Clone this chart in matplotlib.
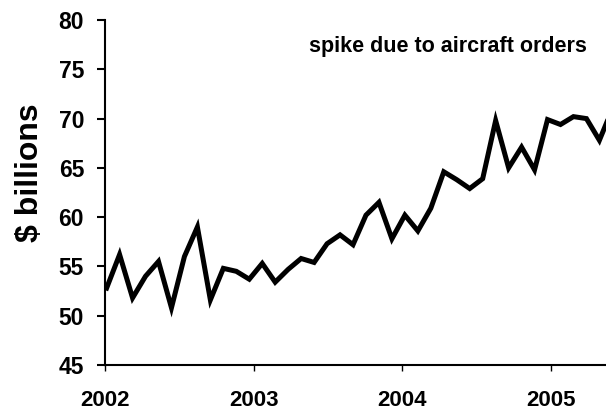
import numpy as np
import matplotlib.pyplot as plt

plt.rcParams['font.family'] = ['Liberation Sans', 'DejaVu Sans']
plt.rcParams['font.weight'] = 'bold'

# monthly values, $ billions (starting early 2002)
values = [52.8, 56.2, 51.8, 54.0, 55.5, 50.8, 56.0, 59.0, 51.6, 54.8,
          54.5, 53.7, 55.3, 53.4, 54.7, 55.8, 55.4, 57.3, 58.2, 57.2,
          60.2, 61.5, 57.8, 60.2, 58.6, 60.9, 64.6, 63.8, 62.9, 63.9,
          69.8, 65.0, 67.1, 64.8, 69.9, 69.4, 70.2, 70.0, 67.8, 71.0]
year_ticks = [2002, 2003, 2004, 2005]
y_ticks = [45, 50, 55, 60, 65, 70, 75, 80]
note = 'spike due to aircraft orders'

# point spacing as it sits on the original axis (a bit wider than a month)
step = 0.0872
x = 2002.012 + step * np.arange(len(values))

fig = plt.figure(figsize=(6.06, 4.18), dpi=100)
ax = fig.add_axes([0.173, 0.127, 0.827, 0.825])

ax.plot(x, values, color='black', linewidth=3.6, solid_joinstyle='miter')

ax.set_xlim(2002, 2005.37)
ax.set_ylim(45, 80)
ax.set_xticks(year_ticks)
ax.set_xticklabels([str(y) for y in year_ticks], fontsize=16, fontweight='bold')
ax.set_yticks(y_ticks)
ax.set_yticklabels([str(v) for v in y_ticks], fontsize=16.5, fontweight='bold')

ax.spines['top'].set_visible(False)
ax.spines['right'].set_visible(False)
ax.spines['left'].set_linewidth(1.5)
ax.spines['bottom'].set_linewidth(1.5)
ax.tick_params(axis='y', direction='out', length=6, width=1.5, pad=9)
ax.tick_params(axis='x', direction='out', length=4, width=1.0, pad=14)

ax.set_ylabel('$ billions', fontsize=23, fontweight='bold')
ax.yaxis.set_label_coords(-0.12, 0.557)

ax.text(2004.31, 77.35, note, ha='center', va='center',
        fontsize=15.5, fontweight='bold')

fig.savefig('out.png', dpi=100)
